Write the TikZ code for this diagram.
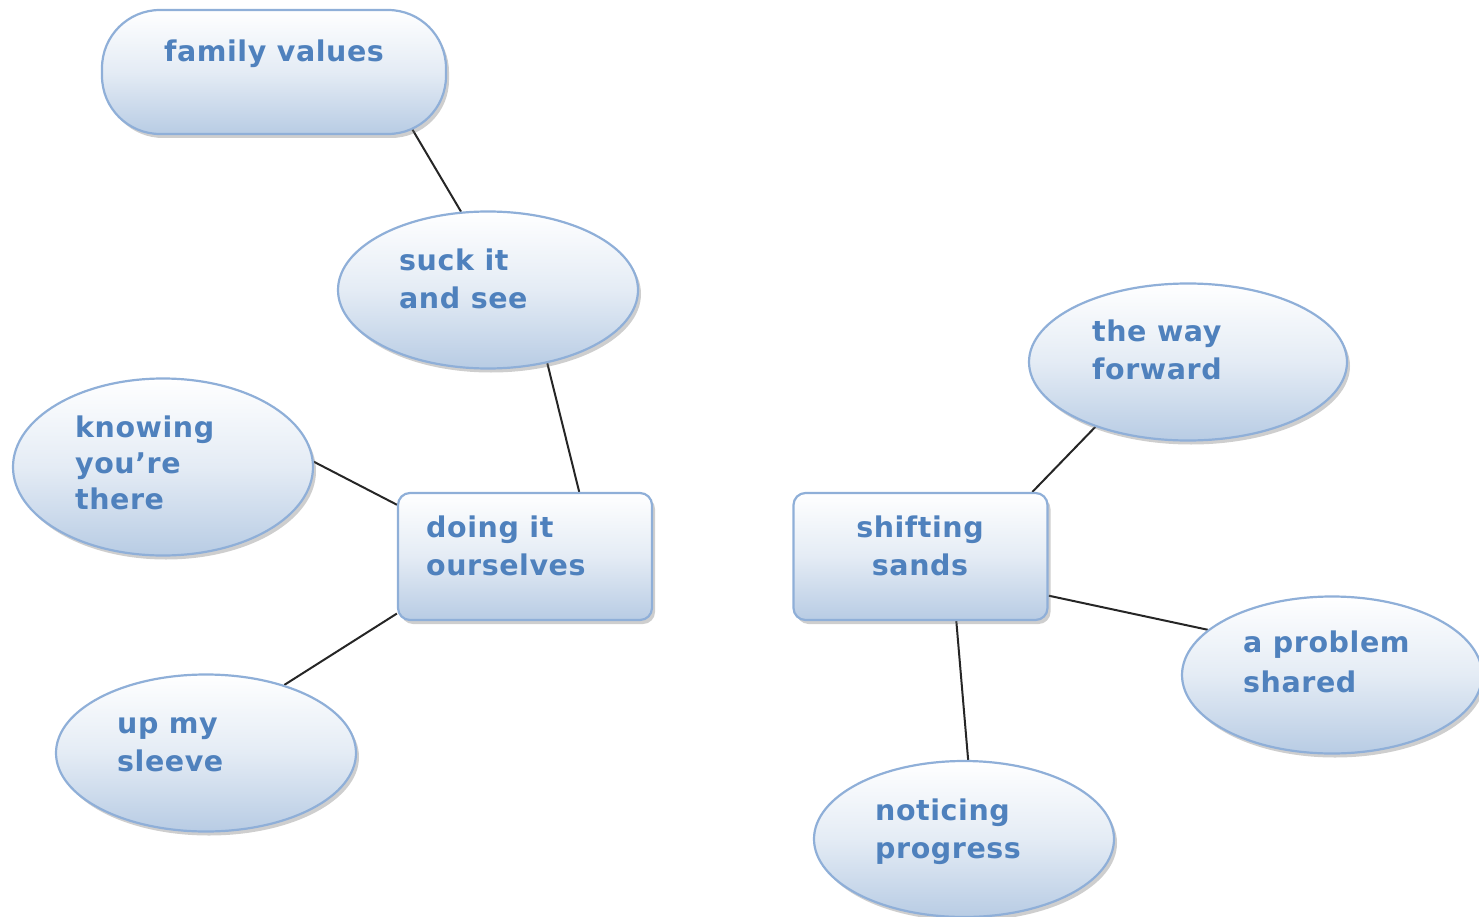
\documentclass[tikz,border=0pt]{standalone}
\usepackage{fontspec}
\setmainfont{DejaVu Sans}[LetterSpace=2]
\usetikzlibrary{shapes.geometric,shadows,backgrounds,calc}
\definecolor{labelblue}{HTML}{4F81BD}
\definecolor{edgeblue}{HTML}{8FAFD8}
\definecolor{fillblue}{HTML}{B8CCE4}
\tikzset{
  bubblebase/.style={draw=edgeblue, line width=2.2pt, top color=white, bottom color=fillblue,
    middle color=white!62!fillblue, inner sep=0pt,
    drop shadow={shadow xshift=3pt, shadow yshift=-4pt, opacity=0.35, fill=black!55}},
  oval/.style={bubblebase, ellipse, minimum width=#1, minimum height=157},
  oval/.default=300,
  boxnode/.style={bubblebase, rectangle, rounded corners=12pt, minimum width=254, minimum height=127},
  pill/.style={bubblebase, rectangle, rounded corners=58pt, minimum width=344, minimum height=124},
  lbl/.style={inner sep=0pt, text=labelblue, font=\bfseries\fontsize{28.5}{38.5}\selectfont, align=left},
  link/.style={draw=black!85, line width=2pt}
}
\begin{document}
\begin{tikzpicture}[x=1pt,y=-1pt]
\useasboundingbox (0,0) rectangle (1479,917);

% shapes
\node[pill]      (fam)   at (274,72)   {};
\node[oval]      (suck)  at (488,290)  {};
\node[oval, minimum height=177] (know) at (163,467) {};
\node[boxnode]   (doing) at (525,556.5) {};
\node[oval]      (sleeve) at (206,753) {};
\node[boxnode]   (shift) at (920.5,556.5) {};
\node[oval=318]  (way)   at (1188,362) {};
\node[oval]      (prob)  at (1332,675) {};
\node[oval, minimum height=156] (notice) at (964,839) {};

% labels (the base anchor of a multi-line label sits on its last line)
\node[lbl, anchor=base] (famt) at (274,62) {family values};
\node[lbl, anchor=base west] (suckt) at (399,308.5) {suck it\\and see};
\node[lbl, anchor=base west, font=\bfseries\fontsize{28.5}{36}\selectfont] (knowt) at (75,509) {knowing\\you’re\\there};
\node[lbl, anchor=base west] (doingt) at (426,575.5) {doing it\\ourselves};
\node[lbl, anchor=base west] (sleevet) at (117,771.5) {up my\\sleeve};
\node[lbl, anchor=base, align=center] (shiftt) at (920,575.5) {shifting\\sands};
\node[lbl, anchor=base west] (wayt) at (1092,379.5) {the way\\forward};
\node[lbl, anchor=base west, font=\bfseries\fontsize{28.5}{40}\selectfont] (probt) at (1243,692.5) {a problem\\shared};
\node[lbl, anchor=base west] (noticet) at (875,858.5) {noticing\\progress};

% connectors, kept behind the shapes
\begin{pgfonlayer}{background}
\draw[link] (suck.109.5) -- ($(suck.109.5)!1.12!(fam.-24.2)$);
\draw[link] (suck.-51.7) -- (doing.50.7);
\draw[link] (know.2.3) -- (doing.158.3);
\draw[link] (sleeve.41.1) -- (doing.-156.4);
\draw[link] (shift.30.3) -- (way.-145.2);
\draw[link] (shift.-17.2) -- (prob.160.6);
\draw[link] (shift.-61) -- (notice.87);
\end{pgfonlayer}
\end{tikzpicture}
\end{document}
